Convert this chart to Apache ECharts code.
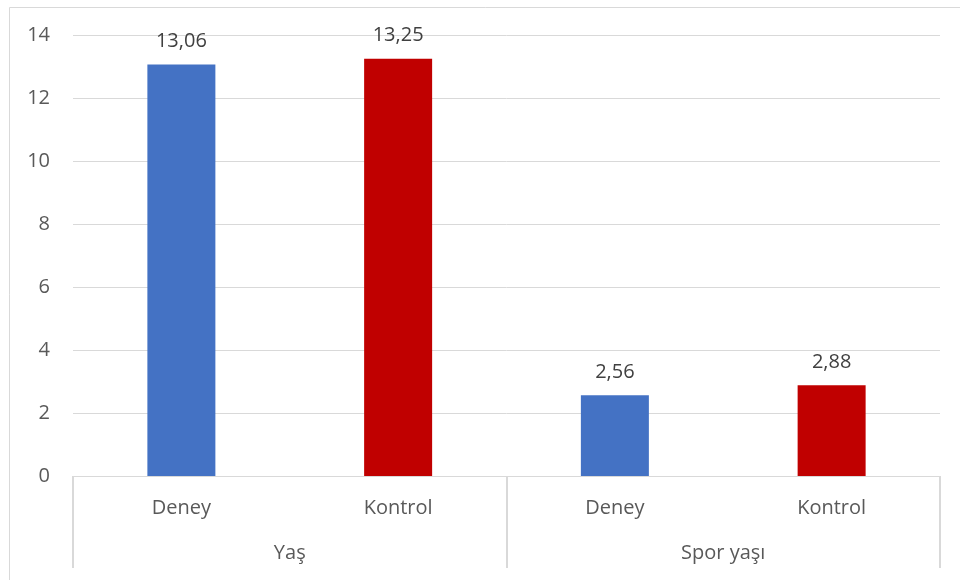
<!DOCTYPE html>
<html><head><meta charset="utf-8">
<script src="https://cdn.jsdelivr.net/npm/echarts@6/dist/echarts.min.js"></script>
<style>html,body{margin:0;padding:0;background:#fff}#c{width:960px;height:580px}</style>
</head><body><div id="c"></div>
<script>
const groups = ["Yaş", "Spor yaşı"];
const subCategories = ["Deney", "Kontrol", "Deney", "Kontrol"];
const values = [13.06, 13.25, 2.56, 2.88];
const barColors = ["#4472C4", "#C00000", "#4472C4", "#C00000"];
const yTicks = {min: 0, max: 14, interval: 2};

const font = "'Open Sans', 'Liberation Sans', sans-serif";
const chart = echarts.init(document.getElementById('c'));
chart.setOption({
  animation: false,
  backgroundColor: '#fff',
  graphic: [{type: 'rect', shape: {x: 9.5, y: 7.5, width: 1000, height: 1000}, style: {fill: 'none', stroke: '#d9d9d9', lineWidth: 1}, silent: true}],
  grid: {left: 73, right: 20, top: 35, bottom: 104, containLabel: false},
  xAxis: [{
    type: 'category', data: subCategories, position: 'bottom',
    axisLine: {lineStyle: {color: '#d9d9d9', width: 1}},
    axisTick: {show: false},
    axisLabel: {color: '#595959', fontSize: 20, fontFamily: font, margin: 22, interval: 0}
  }, {
    type: 'category', data: groups, position: 'bottom',
    axisLine: {show: false},
    axisTick: {show: true, length: 92, lineStyle: {color: '#d9d9d9', width: 2}},
    axisLabel: {color: '#595959', fontSize: 20, fontFamily: font, margin: 67, interval: 0}
  }],
  yAxis: {
    type: 'value', min: yTicks.min, max: yTicks.max, interval: yTicks.interval,
    axisLine: {show: false}, axisTick: {show: false},
    splitLine: {lineStyle: {color: '#d9d9d9', width: 1}},
    axisLabel: {color: '#595959', fontSize: 20, fontFamily: font, margin: 23}
  },
  series: [{
    type: 'bar', xAxisIndex: 0, barWidth: 68,
    data: values.map((v, i) => ({value: v, itemStyle: {color: barColors[i]}})),
    label: {show: true, position: 'top', distance: 13, color: '#404040', fontSize: 20, fontFamily: font,
      formatter: p => p.value.toFixed(2).replace('.', ',')}
  }]
});
</script></body></html>
